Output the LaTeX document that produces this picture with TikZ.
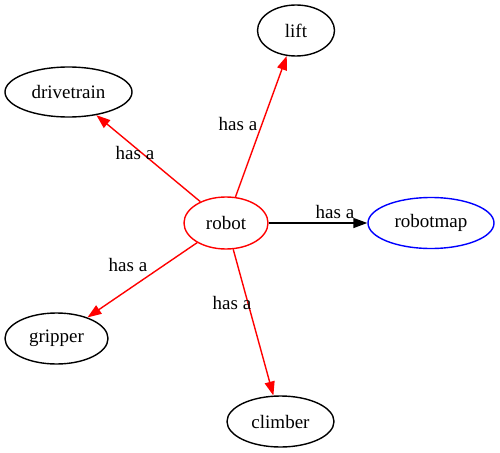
\documentclass[tikz,border=0pt]{standalone}
\usepackage{fontspec}
\setmainfont{Liberation Serif}
\usetikzlibrary{shapes.geometric,arrows.meta}
\begin{document}
\begin{tikzpicture}[x=1pt,y=-1pt,
  gnode/.style={draw, ellipse, line width=1.4pt, inner sep=0pt, font=\fontsize{19}{22}\selectfont},
  gedge/.style={line width=1.4pt, -{Triangle[length=14pt,width=10pt]}},
  glabel/.style={font=\fontsize{19}{22}\selectfont, inner sep=0pt}]
\useasboundingbox (0,0) rectangle (500,452);
\node[gnode, red, text=black, minimum width=84pt, minimum height=52pt] (robot) at (226,223) {robot};
\node[gnode, blue, text=black, minimum width=126pt, minimum height=51pt] (robotmap) at (431,223) {robotmap};
\node[gnode, minimum width=77pt, minimum height=51pt] (lift) at (296,30.5) {lift};
\node[gnode, minimum width=127pt, minimum height=50pt] (drivetrain) at (68.5,92) {drivetrain};
\node[gnode, minimum width=103pt, minimum height=51pt] (gripper) at (56.5,338.5) {gripper};
\node[gnode, minimum width=107pt, minimum height=51pt] (climber) at (280.5,421.5) {climber};
\draw[gedge, red] (robot) -- (lift);
\draw[gedge, red] (robot) -- (drivetrain);
\draw[gedge, black] (robot) -- (robotmap);
\draw[gedge, red] (robot) -- (gripper);
\draw[gedge, red] (robot) -- (climber);
\node[glabel] (l1) at (238,124) {has a};
\node[glabel] (l2) at (135,153) {has a};
\node[glabel] (l3) at (335,212) {has a};
\node[glabel] (l4) at (128,265) {has a};
\node[glabel] (l5) at (232,303) {has a};
\end{tikzpicture}
\end{document}
